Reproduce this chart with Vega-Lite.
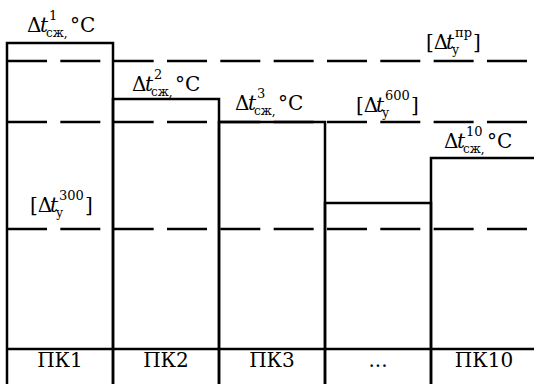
{
  "$schema": "https://vega.github.io/schema/vega-lite/v6.json",
  "width": 534,
  "height": 384,
  "padding": 0,
  "autosize": {"type": "fit", "contains": "padding"},
  "background": "white",
  "config": {
    "view": {"stroke": null},
    "text": {"font": "DejaVu Serif", "fontSize": 20, "color": "#000000", "baseline": "alphabetic", "align": "left"}
  },
  "datasets": {
    "bars": [
      {"pk": "ПК1", "start": 0, "end": 1, "mid": 0.5, "h": 341},
      {"pk": "ПК2", "start": 1, "end": 2, "mid": 1.5, "h": 285},
      {"pk": "ПК3", "start": 2, "end": 3, "mid": 2.5, "h": 262},
      {"pk": "...", "start": 3, "end": 4, "mid": 3.5, "h": 181},
      {"pk": "ПК10", "start": 4, "end": 5, "mid": 4.5, "h": 226}
    ],
    "limits": [
      {"name": "пр", "y": 323},
      {"name": "600", "y": 262},
      {"name": "300", "y": 155}
    ],
    "labels": [
      {"kind": "сж", "sub": "сж,", "sup": "1", "x": 0.189, "y": 352},
      {"kind": "сж", "sub": "сж,", "sup": "2", "x": 1.179, "y": 293},
      {"kind": "сж", "sub": "сж,", "sup": "3", "x": 2.151, "y": 274},
      {"kind": "сж", "sub": "сж,", "sup": "10", "x": 4.123, "y": 236},
      {"kind": "у", "sub": "у", "sup": "пр", "x": 4.019, "y": 335},
      {"kind": "у", "sub": "у", "sup": "600", "x": 3.358, "y": 272},
      {"kind": "у", "sub": "у", "sup": "300", "x": 0.283, "y": 172}
    ]
  },
  "layer": [
    {
      "data": {"name": "bars"},
      "mark": {"type": "rect", "fill": "white", "fillOpacity": 0, "stroke": "#000000", "strokeWidth": 2.5, "clip": true},
      "encoding": {
        "x": {"field": "start", "type": "quantitative", "scale": {"domain": [-0.06604, 4.9717], "nice": false, "zero": false}, "axis": null},
        "x2": {"field": "end"},
        "y": {"field": "h", "type": "quantitative", "scale": {"domain": [0, 384], "nice": false, "zero": false}, "axis": null},
        "y2": {"datum": -10}
      }
    },
    {
      "data": {"name": "limits"},
      "mark": {"type": "rule", "color": "#000000", "strokeWidth": 2.5, "strokeDash": [40, 13.33], "clip": true},
      "encoding": {
        "y": {"field": "y", "type": "quantitative"},
        "x": {"datum": 0, "type": "quantitative"},
        "x2": {"datum": 5}
      }
    },
    {
      "data": {"values": [{"level": 35}]},
      "mark": {"type": "rule", "color": "#000000", "strokeWidth": 2.5, "clip": true},
      "encoding": {
        "y": {"field": "level", "type": "quantitative"},
        "x": {"datum": 0, "type": "quantitative"},
        "x2": {"datum": 5}
      }
    },
    {
      "data": {"name": "bars"},
      "mark": {"type": "text", "font": "DejaVu Serif", "align": "center", "baseline": "alphabetic", "fontSize": 20},
      "encoding": {
        "x": {"field": "mid", "type": "quantitative"},
        "y": {"datum": 17, "type": "quantitative"},
        "text": {"field": "pk"}
      }
    },
    {
      "data": {"name": "labels"},
      "transform": [{"filter": "datum.kind === 'сж'"}],
      "mark": {"type": "text", "font": "DejaVu Serif", "align": "left", "baseline": "alphabetic", "text": "Δ", "fontSize": 20},
      "encoding": {
        "x": {"field": "x", "type": "quantitative"},
        "y": {"field": "y", "type": "quantitative"}
      }
    },
    {
      "data": {"name": "labels"},
      "transform": [{"filter": "datum.kind === 'у'"}],
      "mark": {"type": "text", "font": "DejaVu Serif", "align": "left", "baseline": "alphabetic", "text": "[Δ", "fontSize": 20, "dx": -7},
      "encoding": {
        "x": {"field": "x", "type": "quantitative"},
        "y": {"field": "y", "type": "quantitative"}
      }
    },
    {
      "data": {"name": "labels"},
      "mark": {"type": "text", "font": "DejaVu Serif", "align": "left", "baseline": "alphabetic", "text": "t", "fontSize": 20, "fontStyle": "italic", "dx": 13},
      "encoding": {
        "x": {"field": "x", "type": "quantitative"},
        "y": {"field": "y", "type": "quantitative"}
      }
    },
    {
      "data": {"name": "labels"},
      "mark": {"type": "text", "font": "DejaVu Serif", "align": "left", "baseline": "alphabetic", "fontSize": 12, "dx": 19, "dy": 5},
      "encoding": {
        "x": {"field": "x", "type": "quantitative"},
        "y": {"field": "y", "type": "quantitative"},
        "text": {"field": "sub"}
      }
    },
    {
      "data": {"name": "labels"},
      "mark": {"type": "text", "font": "DejaVu Serif", "align": "left", "baseline": "alphabetic", "fontSize": 13, "dx": 22, "dy": -12},
      "encoding": {
        "x": {"field": "x", "type": "quantitative"},
        "y": {"field": "y", "type": "quantitative"},
        "text": {"field": "sup"}
      }
    },
    {
      "data": {"name": "labels"},
      "transform": [{"filter": "datum.kind === 'сж'"}],
      "mark": {"type": "text", "font": "DejaVu Serif", "align": "left", "baseline": "alphabetic", "text": "°C", "fontSize": 20, "dx": 43},
      "encoding": {
        "x": {"field": "x", "type": "quantitative"},
        "y": {"field": "y", "type": "quantitative"}
      }
    },
    {
      "data": {"name": "labels"},
      "transform": [{"filter": "datum.kind === 'у' && length(datum.sup) === 3"}],
      "mark": {"type": "text", "font": "DejaVu Serif", "align": "left", "baseline": "alphabetic", "text": "]", "fontSize": 20, "dx": 48},
      "encoding": {
        "x": {"field": "x", "type": "quantitative"},
        "y": {"field": "y", "type": "quantitative"}
      }
    },
    {
      "data": {"name": "labels"},
      "transform": [{"filter": "datum.kind === 'у' && length(datum.sup) === 2"}],
      "mark": {"type": "text", "font": "DejaVu Serif", "align": "left", "baseline": "alphabetic", "text": "]", "fontSize": 20, "dx": 40},
      "encoding": {
        "x": {"field": "x", "type": "quantitative"},
        "y": {"field": "y", "type": "quantitative"}
      }
    }
  ]
}
